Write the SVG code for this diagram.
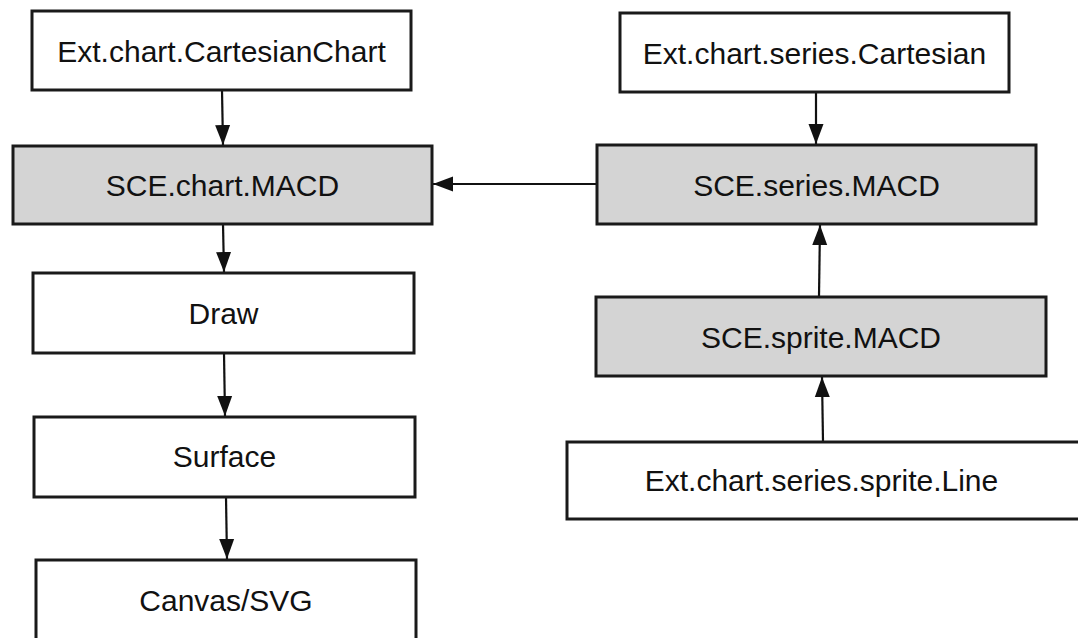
<svg xmlns="http://www.w3.org/2000/svg" width="1078" height="638" viewBox="0 0 1078 638">
<style>
.box{fill:#ffffff;stroke:#1a1a1a;stroke-width:3}
.gray{fill:#d4d4d4}
.lbl{font-family:"Liberation Sans",Arial,sans-serif;font-size:30px;fill:#111111;text-anchor:middle}
.conn{stroke:#111111;stroke-width:2.2;fill:none;marker-end:url(#arr)}
</style>
<defs>
<marker id="arr" markerUnits="userSpaceOnUse" markerWidth="22" markerHeight="16" refX="20" refY="8" orient="auto">
<path d="M0,0.5 L20,8 L0,15.5 z" fill="#111111"/>
</marker>
</defs>
<rect width="1078" height="638" fill="#ffffff"/>
<g id="connectors">
<path class="conn" d="M222,90 L223,145"/>
<path class="conn" d="M816,92 L816,144"/>
<path class="conn" d="M597,184 L433,184"/>
<path class="conn" d="M223,224 L224,272"/>
<path class="conn" d="M224,353 L225,416"/>
<path class="conn" d="M226,497 L227,559"/>
<path class="conn" d="M819,297 L820,225"/>
<path class="conn" d="M823,442 L822,377"/>
</g>
<g id="cartesianChart">
<rect class="box" x="32" y="11" width="379" height="79"/>
<text class="lbl" x="221.5" y="62">Ext.chart.CartesianChart</text>
</g>
<g id="seriesCartesian">
<rect class="box" x="620" y="13" width="389" height="79"/>
<text class="lbl" x="814.5" y="64">Ext.chart.series.Cartesian</text>
</g>
<g id="chartMACD">
<rect class="box gray" x="13" y="146" width="419" height="78"/>
<text class="lbl" x="222.5" y="196">SCE.chart.MACD</text>
</g>
<g id="seriesMACD">
<rect class="box gray" x="597" y="145" width="439" height="79"/>
<text class="lbl" x="816.5" y="196">SCE.series.MACD</text>
</g>
<g id="draw">
<rect class="box" x="33" y="273" width="381" height="80"/>
<text class="lbl" x="223.5" y="324">Draw</text>
</g>
<g id="surface">
<rect class="box" x="34" y="417" width="381" height="80"/>
<text class="lbl" x="224.5" y="467">Surface</text>
</g>
<g id="canvasSVG">
<rect class="box" x="36" y="560" width="380" height="82"/>
<text class="lbl" x="226" y="611">Canvas/SVG</text>
</g>
<g id="spriteMACD">
<rect class="box gray" x="596" y="297" width="450" height="79"/>
<text class="lbl" x="821" y="348">SCE.sprite.MACD</text>
</g>
<g id="spriteLine">
<rect class="box" x="567" y="442" width="520" height="77"/>
<text class="lbl" x="821.5" y="491">Ext.chart.series.sprite.Line</text>
</g>
</svg>
